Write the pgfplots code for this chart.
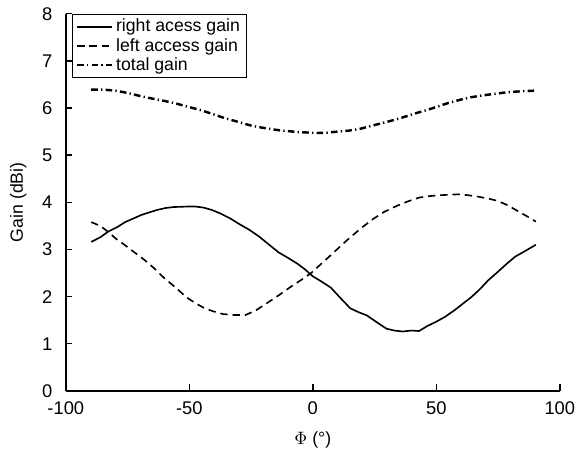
\documentclass[border=0pt]{standalone}
\usepackage{fontspec}
\setmainfont{Liberation Sans}
\usepackage{pgfplots}
\pgfplotsset{compat=1.18}

\begin{document}
\fontsize{10.8}{13}\selectfont
\begin{tikzpicture}
\begin{axis}[
    name=ax,
    scale only axis,
    width=301.8pt,
    height=230.4pt,
    axis lines*=left,
    axis line style={line width=0.9pt},
    tick align=inside,
    major tick length=4pt,
    tick style={line width=0.9pt, black},
    xmin=-100, xmax=100,
    ymin=0, ymax=8,
    xtick={-100,-50,0,50,100},
    ytick={0,1,...,8},
    /pgf/number format/assume math mode=true,
    ticklabel style={font=\fontsize{11.2}{13}\selectfont},
    xticklabel style={yshift=-3pt},
    yticklabel style={xshift=-4.5pt},
    xlabel={$\Phi$ (°)},
    ylabel={Gain (dBi)},
    label style={font=\fontsize{10.8}{13}\selectfont},
    xlabel style={yshift=-3pt},
    ylabel style={yshift=2pt},
    legend style={at={(0.013,1)}, anchor=north west, draw=black, line width=0.6pt,
        font=\fontsize{10.8}{13}\selectfont, inner xsep=2pt, inner ysep=1pt,
        row sep=-1.8pt},
    legend cell align=left,
    legend image code/.code={\draw[#1] (0pt,0pt) -- (21pt,0pt);},
]
\addplot[black, line width=1.0pt] coordinates {
    (-89.7,3.16)(-86,3.26)(-82.8,3.38)(-79,3.48)(-76,3.58)(-72.5,3.66)
    (-69.5,3.73)(-66,3.79)(-62.9,3.84)(-59.5,3.88)(-56.3,3.90)
    (-51,3.91)(-47.5,3.91)(-44.4,3.89)(-41,3.84)(-37.7,3.77)(-33.5,3.66)
    (-29.8,3.54)(-25.8,3.42)(-21.9,3.28)(-17.9,3.11)(-13.9,2.94)(-10,2.82)
    (-6,2.69)(-3,2.57)(0,2.43)(3.5,2.32)(7.3,2.19)(11,1.98)(15.2,1.75)
    (18.5,1.67)(21.9,1.60)(25.8,1.46)(29.8,1.32)(33,1.28)(36.4,1.26)
    (40,1.28)(43,1.27)(46.5,1.38)(49.7,1.46)(53.5,1.57)(57.6,1.72)
    (61,1.86)(64.2,1.99)(67.5,2.15)(70.9,2.34)(75,2.53)(78.8,2.71)
    (82,2.85)(85.4,2.95)(88,3.03)(90.3,3.10)};
\addplot[black, line width=1.0pt, dash pattern=on 4.5pt off 3pt] coordinates {
    (-89.7,3.58)(-86,3.50)(-82.8,3.37)(-79.5,3.22)(-76,3.09)(-72,2.93)
    (-68.2,2.78)(-64,2.59)(-60.3,2.40)(-55.5,2.19)(-51,1.98)(-47.5,1.86)
    (-44.4,1.77)(-40.5,1.69)(-36.4,1.63)(-32,1.61)(-27.2,1.61)(-23,1.71)
    (-19.2,1.84)(-14,2.02)(-8.6,2.22)(-4.5,2.36)(-0.7,2.50)(3.3,2.69)
    (7.3,2.88)(11.2,3.07)(15.2,3.26)(20,3.47)(24.5,3.65)(29,3.80)
    (33.8,3.92)(38.5,4.02)(43,4.10)(47,4.13)(51,4.15)(55,4.16)(59,4.17)
    (63,4.15)(66.9,4.12)(71,4.08)(74.8,4.03)(78.8,3.94)(82.8,3.82)
    (86.5,3.71)(90.3,3.59)};
\addplot[black, line width=1.5pt, dash pattern=on 4pt off 2pt on 0.8pt off 2pt] coordinates {
    (-89.7,6.39)(-85,6.39)(-80,6.37)(-75,6.32)(-69.5,6.25)(-65,6.20)
    (-60,6.15)(-55,6.09)(-50,6.02)(-45,5.95)(-40.4,5.87)(-36.5,5.80)
    (-32.5,5.74)(-28.5,5.68)(-24.5,5.62)(-19,5.57)(-13.9,5.53)(-10,5.51)
    (-6,5.49)(-2,5.48)(2,5.47)(6,5.48)(10,5.50)(14.5,5.52)(19.2,5.56)
    (25.8,5.65)(31,5.72)(36.4,5.80)(41,5.88)(45.7,5.95)(50.5,6.03)
    (55,6.11)(60,6.18)(64.2,6.23)(69,6.27)(73.5,6.30)(78,6.33)
    (82.8,6.35)(86.5,6.36)(90.3,6.37)};
\legend{right acess gain, left access gain, total gain}
\end{axis}
\path[use as bounding box] (ax.south west) ++(-40.2pt,-34.8pt) rectangle ++(348.6pt,273.6pt);
\end{tikzpicture}
\end{document}
